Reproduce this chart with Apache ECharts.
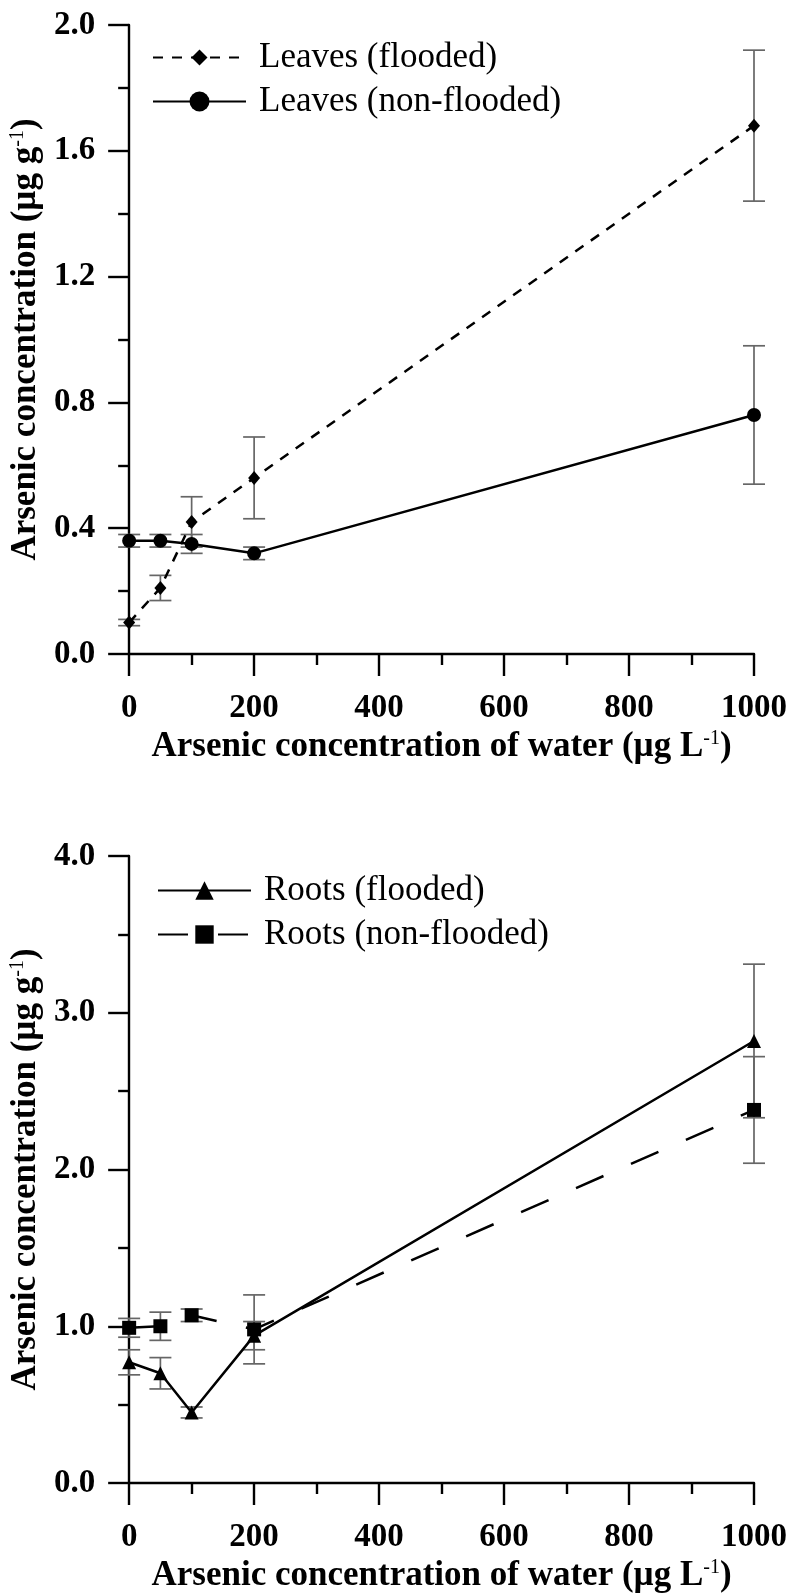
<!DOCTYPE html>
<html>
<head>
<meta charset="utf-8">
<script src="https://cdn.jsdelivr.net/npm/echarts@6/dist/echarts.min.js"></script>
<style>
  html, body { margin: 0; padding: 0; background: #fff; }
  #chart { width: 790px; height: 1594px; }
</style>
</head>
<body>
<div id="chart"></div>
<script>
// ---- Data ----
const waterAs = [0, 50, 100, 200, 1000];               // µg L-1
const leavesFlooded     = [0.10, 0.21, 0.42, 0.56, 1.68];
const leavesFloodedErr  = [0.01, 0.04, 0.08, 0.13, 0.24];
const leavesNonFlooded    = [0.36, 0.36, 0.35, 0.32, 0.76];
const leavesNonFloodedErr = [0.02, 0.02, 0.03, 0.02, 0.22];
const rootsFlooded     = [0.77, 0.70, 0.45, 0.94, 2.82];
const rootsFloodedErr  = [0.08, 0.10, 0.035, 0.09, 0.49];
const rootsNonFlooded    = [0.99, 1.00, 1.07, 0.98, 2.38];
const rootsNonFloodedErr = [0.06, 0.09, 0.04, 0.22, 0.34];
const xTitle = 'Arsenic concentration of water (µg L{sup|-1})';
const yTitle = 'Arsenic concentration (µg g{sup|-1})';

const FONT = '"Liberation Serif", "Times New Roman", serif';
const pairs = (ys) => waterAs.map((x, i) => [x, ys[i]]);
const triples = (ys, es) => waterAs.map((x, i) => [x, ys[i], es[i]]);

function errRender(params, api) {
  const x = api.value(0), y = api.value(1), e = api.value(2);
  const t = api.coord([x, y + e]);
  const b = api.coord([x, y - e]);
  const w = 11;
  const st = { stroke: '#666', lineWidth: 1.7 };
  return {
    type: 'group',
    children: [
      { type: 'line', shape: { x1: t[0], y1: t[1], x2: b[0], y2: b[1] }, style: st },
      { type: 'line', shape: { x1: t[0] - w, y1: t[1], x2: t[0] + w, y2: t[1] }, style: st },
      { type: 'line', shape: { x1: b[0] - w, y1: b[1], x2: b[0] + w, y2: b[1] }, style: st }
    ]
  };
}

const richSup = { sup: { fontSize: 20, fontWeight: 'normal', verticalAlign: 'top', fontFamily: FONT, color: '#000' } };

function xAxisCfg(gi) {
  return {
    type: 'value', gridIndex: gi, min: 0, max: 1000, interval: 200,
    axisLine: { onZero: false, lineStyle: { color: '#000', width: 2.4 } },
    axisTick: { length: 22, lineStyle: { color: '#000', width: 2.4 } },
    minorTick: { show: true, splitNumber: 2, length: 11, lineStyle: { color: '#000', width: 2.4 } },
    splitLine: { show: false },
    axisLabel: { margin: 38, fontSize: 33, fontWeight: 'bold', color: '#000', fontFamily: FONT,
                 formatter: (v) => String(v) },
    name: xTitle, nameLocation: 'middle', nameGap: 75,
    nameTextStyle: { fontSize: 35, fontWeight: 'bold', color: '#000', fontFamily: FONT, rich: richSup }
  };
}
function yAxisCfg(gi, max, interval) {
  return {
    type: 'value', gridIndex: gi, min: 0, max: max, interval: interval,
    axisLine: { onZero: false, lineStyle: { color: '#000', width: 2.4 } },
    axisTick: { length: 21, lineStyle: { color: '#000', width: 2.4 } },
    minorTick: { show: true, splitNumber: 2, length: 11, lineStyle: { color: '#000', width: 2.4 } },
    splitLine: { show: false },
    axisLabel: { margin: 34, fontSize: 33, fontWeight: 'bold', color: '#000', fontFamily: FONT,
                 formatter: (v) => v.toFixed(1) },
    name: yTitle, nameLocation: 'middle', nameGap: 82, nameRotate: 90,
    nameTextStyle: { fontSize: 35, fontWeight: 'bold', color: '#000', fontFamily: FONT, rich: richSup }
  };
}

function legendCfg(name, left, top, itemH) {
  return {
    data: [name], left: left, top: top, padding: 0, orient: 'vertical',
    itemWidth: 93, itemHeight: itemH, selectedMode: false,
    textStyle: { fontSize: 35, fontFamily: FONT, color: '#000', padding: [0, 0, 0, 8] }
  };
}

function lineSeries(name, gi, ys, symbol, size, dash) {
  return {
    type: 'line', name: name, xAxisIndex: gi, yAxisIndex: gi, data: pairs(ys),
    symbol: symbol, symbolSize: size, showSymbol: true, z: 3,
    itemStyle: { color: '#000' },
    lineStyle: { color: '#000', width: 2.5, type: dash }
  };
}
function errSeries(name, gi, ys, es) {
  return {
    type: 'custom', name: name + ' err', xAxisIndex: gi, yAxisIndex: gi,
    data: triples(ys, es), encode: { x: 0, y: 1 }, renderItem: errRender, z: 2, silent: true
  };
}

const chart = echarts.init(document.getElementById('chart'), null, { renderer: 'canvas' });
chart.setOption({
  animation: false,
  backgroundColor: '#fff',
  grid: [
    { left: 125, top: 25, width: 629, height: 629 },
    { left: 125, top: 856, width: 629, height: 628 }
  ],
  xAxis: [xAxisCfg(0), xAxisCfg(1)],
  yAxis: [yAxisCfg(0, 2.0, 0.4), yAxisCfg(1, 4.0, 1.0)],
  legend: [
    legendCfg('Leaves (flooded)', 152, 40, 20),
    legendCfg('Leaves (non-flooded)', 152, 84, 25),
    legendCfg('Roots (flooded)', 157, 873, 23),
    legendCfg('Roots (non-flooded)', 157, 917, 23)
  ],
  series: [
    errSeries('Leaves (flooded)', 0, leavesFlooded, leavesFloodedErr),
    errSeries('Leaves (non-flooded)', 0, leavesNonFlooded, leavesNonFloodedErr),
    errSeries('Roots (flooded)', 1, rootsFlooded, rootsFloodedErr),
    errSeries('Roots (non-flooded)', 1, rootsNonFlooded, rootsNonFloodedErr),
    lineSeries('Leaves (flooded)', 0, leavesFlooded, 'diamond', [12, 14], [10, 9]),
    lineSeries('Leaves (non-flooded)', 0, leavesNonFlooded, 'circle', 14, 'solid'),
    lineSeries('Roots (flooded)', 1, rootsFlooded, 'triangle', 14, 'solid'),
    lineSeries('Roots (non-flooded)', 1, rootsNonFlooded, 'rect', 14, [30, 30])
  ]
});
</script>
</body>
</html>
